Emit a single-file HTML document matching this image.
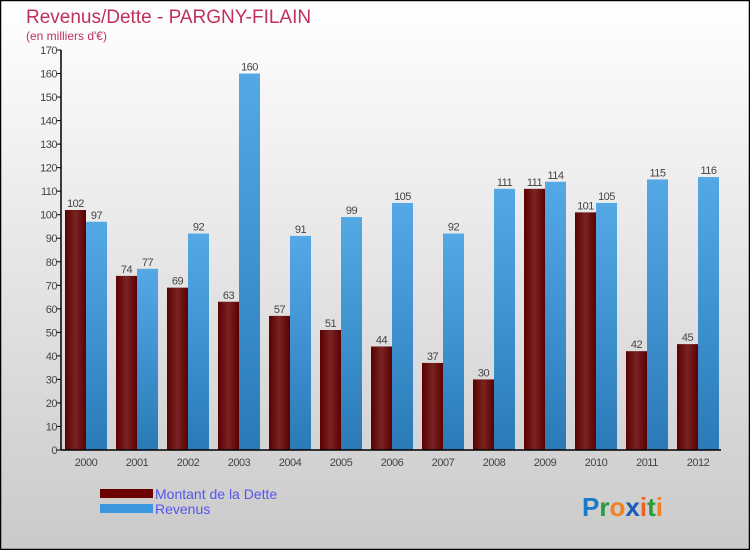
<!DOCTYPE html>
<html><head><meta charset="utf-8"><style>
body{margin:0;width:750px;height:550px;overflow:hidden;font-family:"Liberation Sans",sans-serif}
</style></head><body>
<svg id="chart" width="750" height="550" xmlns="http://www.w3.org/2000/svg">
<defs>
<linearGradient id="bg" x1="0" y1="0" x2="0" y2="1"><stop offset="0" stop-color="#ffffff"/><stop offset="1" stop-color="#cacaca"/></linearGradient>
<linearGradient id="gd" x1="0" y1="0" x2="1" y2="0"><stop offset="0" stop-color="#5a0000"/><stop offset="0.5" stop-color="#7a2424"/><stop offset="1" stop-color="#5a0000"/></linearGradient>
<linearGradient id="gr" x1="0" y1="0" x2="0" y2="1"><stop offset="0" stop-color="#55a8e6"/><stop offset="1" stop-color="#2a7ab8"/></linearGradient>
</defs>
<rect x="0.5" y="0.5" width="749" height="549" fill="url(#bg)" stroke="#000" stroke-width="1.5"/>
<text x="26" y="23" font-size="19" fill="#c0305a">Revenus/Dette - PARGNY-FILAIN</text>
<text x="26" y="40" font-size="12" fill="#c0305a">(en milliers d'€)</text>
<g id="plot"></g>
<g>
<rect x="100" y="489" width="53" height="9" fill="#6a0000"/>
<text x="155" y="499" font-size="14" fill="#5555ee">Montant de la Dette</text>
<rect x="100" y="504" width="53" height="9" fill="#3a96de"/>
<text x="155" y="514" font-size="14" fill="#5555ee">Revenus</text>
</g>
<text x="582" y="516" font-size="26" font-weight="bold"><tspan fill="#1a7ac8">P</tspan><tspan fill="#2a9a3a">r</tspan><tspan fill="#f08020">o</tspan><tspan fill="#1a5ab8">x</tspan><tspan fill="#f06020">i</tspan><tspan fill="#2a9a3a">t</tspan><tspan fill="#f08020">i</tspan></text>
</svg>
<script>
const years=["2000","2001","2002","2003","2004","2005","2006","2007","2008","2009","2010","2011","2012"];
const dette=[102,74,69,63,57,51,44,37,30,111,101,42,45];
const revenus=[97,77,92,160,91,99,105,92,111,114,105,115,116];
const yTicks=[0,10,20,30,40,50,60,70,80,90,100,110,120,130,140,150,160,170];
const NS="http://www.w3.org/2000/svg";
const g=document.getElementById('plot');
const x0=61,y0=450,yTop=50,yMax=170,step=51,bw=21;
const y=v=>y0-(y0-yTop)*v/yMax;
const gx=i=>x0+4+step*i;
function el(t,a,p){const e=document.createElementNS(NS,t);for(const k in a)e.setAttribute(k,a[k]);(p||g).appendChild(e);return e;}
yTicks.forEach(t=>{
 const l=el('line',{x1:x0-4,x2:x0,y1:y(t),y2:y(t),stroke:'#000'});
 
 
 const tx=el('text',{x:x0-4,y:y(t)+4,'font-size':11,'text-anchor':'end',fill:'#444','letter-spacing':'-0.5'});
 tx.textContent=t;
 
 
});
years.forEach((yr,i)=>{
 const d=el('rect',{x:gx(i),y:y(dette[i]),width:bw,height:y0-y(dette[i]),fill:'url(#gd)'});
 
 
 const r=el('rect',{x:gx(i)+bw,y:y(revenus[i]),width:bw,height:y0-y(revenus[i]),fill:'url(#gr)'});
 
 
 const dl=el('text',{x:gx(i)+bw/2,y:y(dette[i])-3,'font-size':11,'text-anchor':'middle',fill:'#444','letter-spacing':'-0.5'});
 dl.textContent=dette[i];
 
 
 const rl=el('text',{x:gx(i)+bw*1.5,y:y(revenus[i])-3,'font-size':11,'text-anchor':'middle',fill:'#444','letter-spacing':'-0.5'});
 rl.textContent=revenus[i];
 
 
 const xl=el('text',{x:gx(i)+bw,y:y0+16,'font-size':11,'text-anchor':'middle',fill:'#444','letter-spacing':'-0.5'});
 xl.textContent=yr;
 
 
});
const ya=el('line',{x1:x0,x2:x0,y1:yTop,y2:y0,stroke:'#000','stroke-width':1.5});


const xa=el('line',{x1:x0,x2:721,y1:y0,y2:y0,stroke:'#000','stroke-width':1.5});


</script>
</body></html>
